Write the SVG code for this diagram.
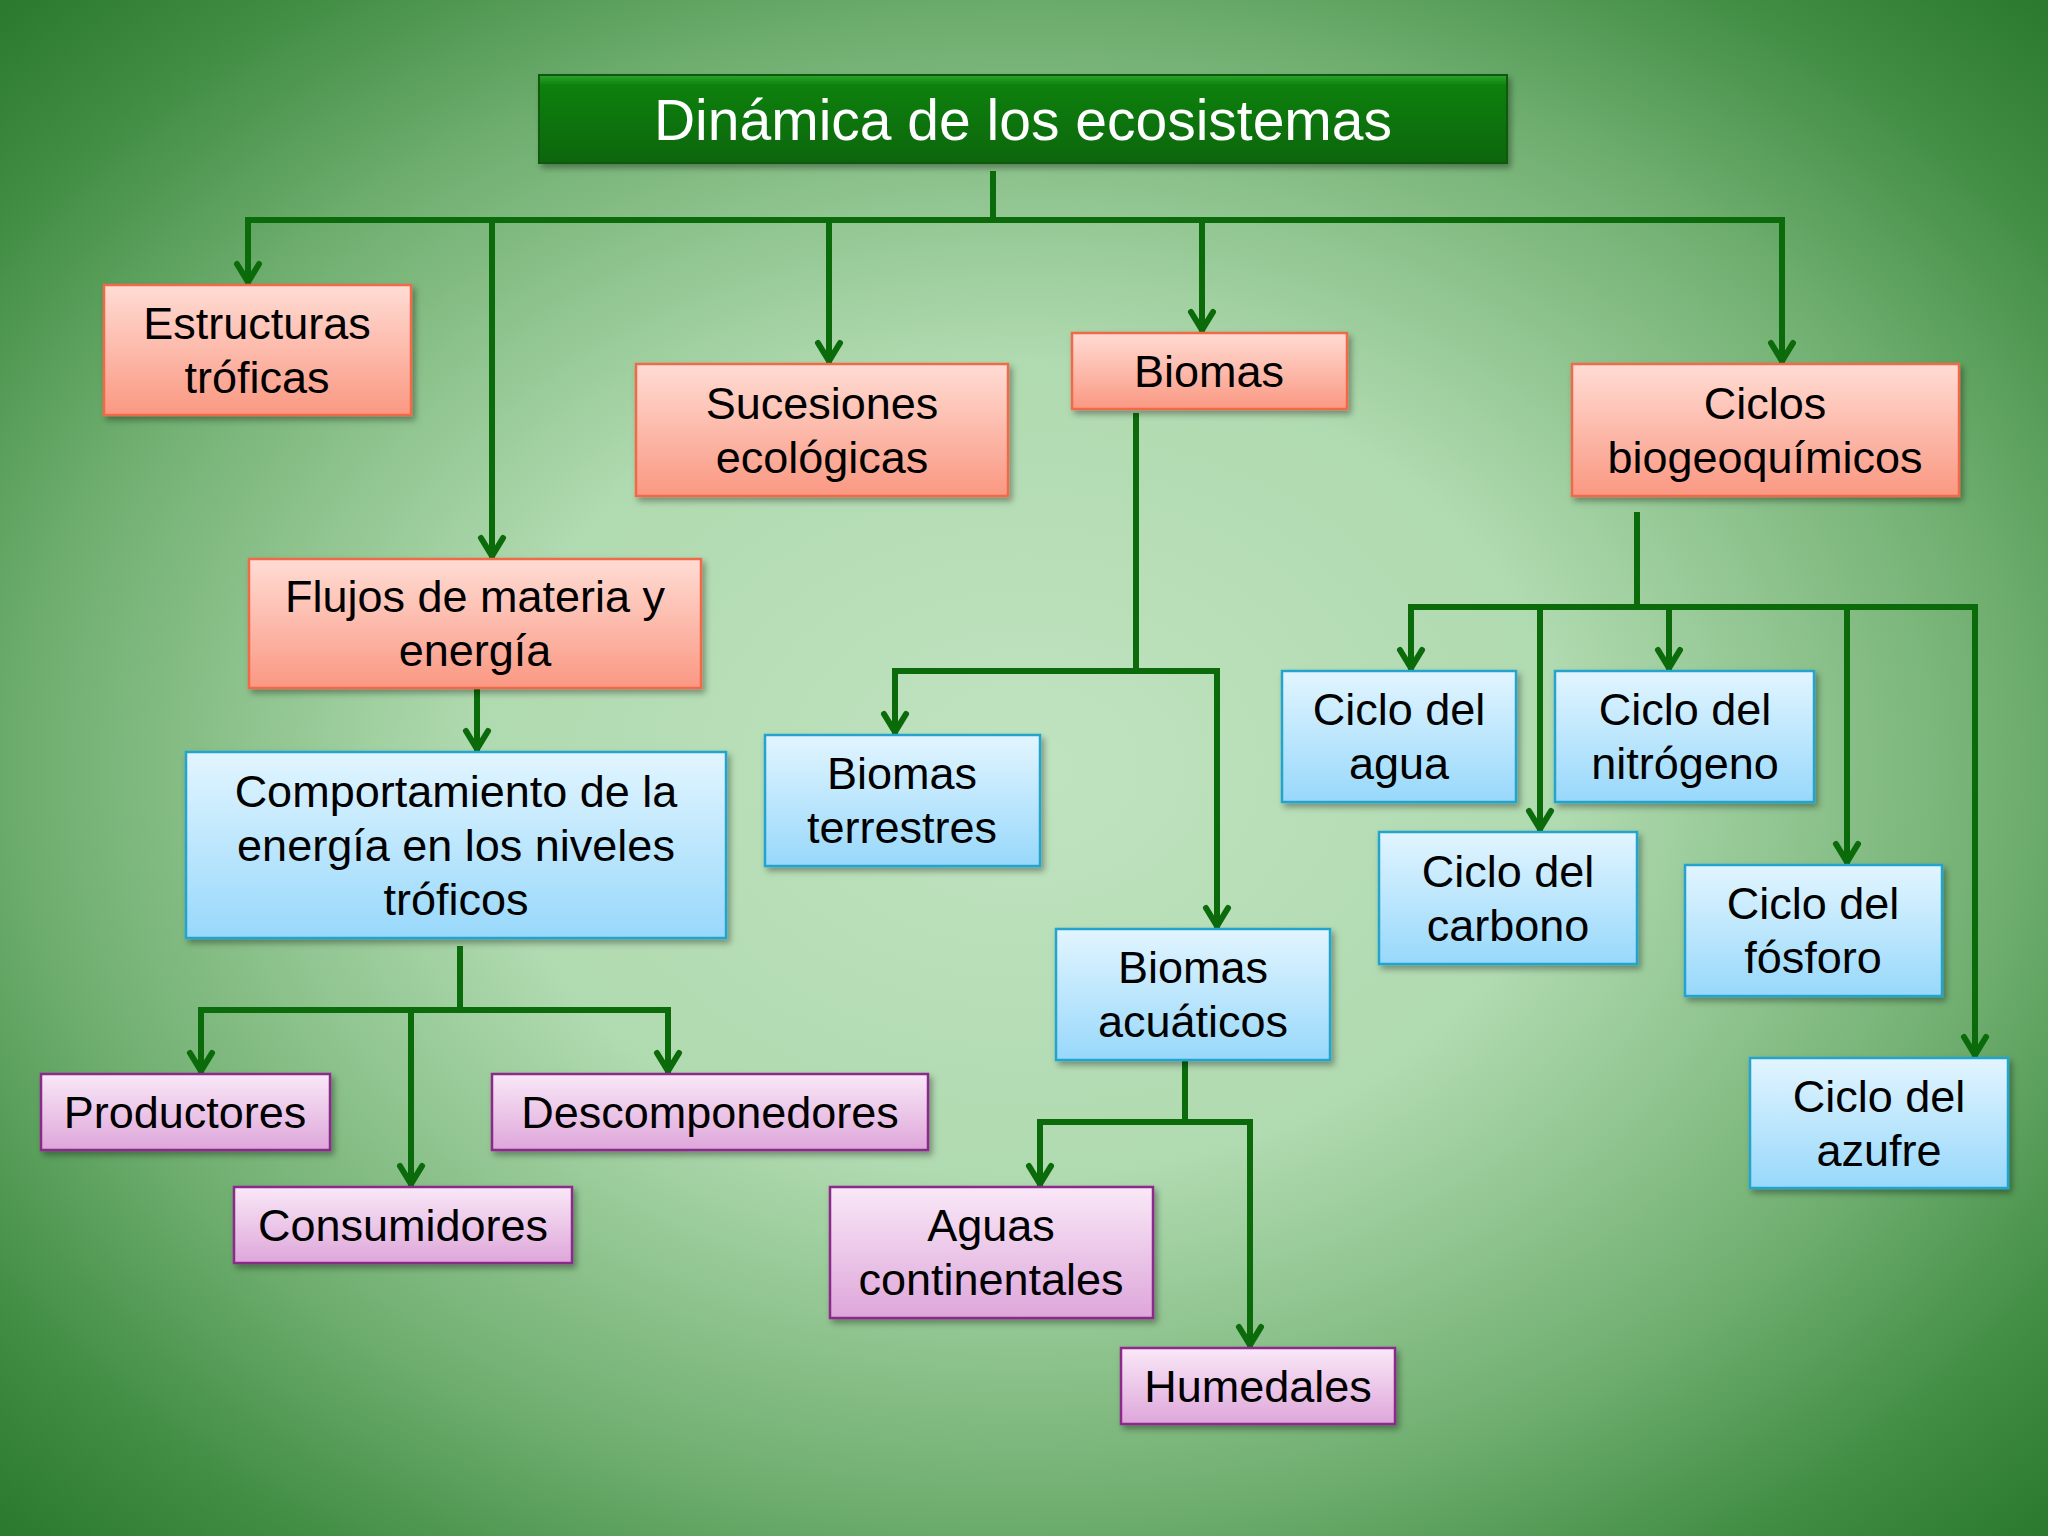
<svg xmlns="http://www.w3.org/2000/svg" width="2048" height="1536" viewBox="0 0 2048 1536">
<defs>
<radialGradient id="bg" cx="0.5" cy="0.5" r="0.7">
<stop offset="0" stop-color="#c0e3c0"/>
<stop offset="0.38" stop-color="#b0dab0"/>
<stop offset="0.68" stop-color="#72b072"/>
<stop offset="0.88" stop-color="#3f8c42"/>
<stop offset="1" stop-color="#2c7a2f"/>
</radialGradient>
<linearGradient id="gTitle" x1="0" y1="0" x2="0" y2="1">
<stop offset="0" stop-color="#2aa52a"/>
<stop offset="0.12" stop-color="#0d800d"/>
<stop offset="1" stop-color="#086608"/>
</linearGradient>
<linearGradient id="gSalmon" x1="0" y1="0" x2="0" y2="1">
<stop offset="0" stop-color="#ffdcd4"/>
<stop offset="1" stop-color="#fa9882"/>
</linearGradient>
<linearGradient id="gBlue" x1="0" y1="0" x2="0" y2="1">
<stop offset="0" stop-color="#e2f5ff"/>
<stop offset="1" stop-color="#98d8fb"/>
</linearGradient>
<linearGradient id="gPink" x1="0" y1="0" x2="0" y2="1">
<stop offset="0" stop-color="#f9e8f7"/>
<stop offset="1" stop-color="#dea6da"/>
</linearGradient>
<filter id="sh" x="-10%" y="-10%" width="130%" height="140%">
<feDropShadow dx="3" dy="4" stdDeviation="3" flood-color="#000" flood-opacity="0.35"/>
</filter>
<marker id="ah" markerUnits="userSpaceOnUse" markerWidth="40" markerHeight="40" viewBox="-30 -20 40 40" refX="0" refY="0" orient="auto" overflow="visible">
<path d="M-20,-11 L-2,0 L-20,11" fill="none" stroke="#0b6b0b" stroke-width="6" stroke-linecap="round" stroke-linejoin="miter"/>
</marker>
<style>
.salmon{fill:url(#gSalmon);stroke:#f06a48;stroke-width:2.5;filter:url(#sh)}
.blue{fill:url(#gBlue);stroke:#24a4cf;stroke-width:2.5;filter:url(#sh)}
.pink{fill:url(#gPink);stroke:#8c2a8c;stroke-width:2.5;filter:url(#sh)}
.t{font-family:"Liberation Sans",Arial,sans-serif;font-size:45px;fill:#000;text-anchor:middle}
.title{font-family:"Liberation Sans",Arial,sans-serif;font-size:57px;fill:#fff;text-anchor:middle}
.c{fill:none;stroke:#0b6b0b;stroke-width:6}
.a{fill:none;stroke:#0b6b0b;stroke-width:6;marker-end:url(#ah)}
</style>
</defs>
<rect x="0" y="0" width="2048" height="1536" fill="url(#bg)"/>

<g id="connectors">
<path class="c" d="M993,171 V220"/>
<path class="c" d="M245,220 H1785"/>
<path class="a" d="M248,220 V284"/>
<path class="a" d="M492,220 V558"/>
<path class="a" d="M829,220 V363"/>
<path class="a" d="M1202,220 V332"/>
<path class="a" d="M1782,220 V363"/>

<path class="a" d="M477,688 V751"/>

<path class="c" d="M460,946 V1010"/>
<path class="c" d="M198,1010 H671"/>
<path class="a" d="M201,1010 V1073"/>
<path class="a" d="M411,1010 V1186"/>
<path class="a" d="M668,1010 V1073"/>

<path class="c" d="M1136,413 V671"/>
<path class="c" d="M892,671 H1220"/>
<path class="a" d="M895,671 V734"/>
<path class="a" d="M1217,671 V928"/>

<path class="c" d="M1185,1060 V1122"/>
<path class="c" d="M1037,1122 H1253"/>
<path class="a" d="M1040,1122 V1186"/>
<path class="a" d="M1250,1122 V1347"/>

<path class="c" d="M1637,512 V607"/>
<path class="c" d="M1408,607 H1978"/>
<path class="a" d="M1411,607 V670"/>
<path class="a" d="M1540,607 V831"/>
<path class="a" d="M1669,607 V670"/>
<path class="a" d="M1847,607 V864"/>
<path class="a" d="M1975,607 V1057"/>
</g>

<g id="title">
<rect x="539" y="75" width="968" height="88" fill="url(#gTitle)" stroke="#0a5a0a" stroke-width="2" filter="url(#sh)"/>
<text class="title" x="1023" y="140">Dinámica de los ecosistemas</text>
</g>

<g id="estructuras">
<rect class="salmon" x="104" y="285" width="307" height="130"/>
<text class="t" x="257" y="339">Estructuras</text>
<text class="t" x="257" y="393">tróficas</text>
</g>

<g id="flujos">
<rect class="salmon" x="249" y="559" width="452" height="129"/>
<text class="t" x="475" y="612">Flujos de materia y</text>
<text class="t" x="475" y="666">energía</text>
</g>

<g id="sucesiones">
<rect class="salmon" x="636" y="364" width="372" height="132"/>
<text class="t" x="822" y="419">Sucesiones</text>
<text class="t" x="822" y="473">ecológicas</text>
</g>

<g id="biomas">
<rect class="salmon" x="1072" y="333" width="275" height="76"/>
<text class="t" x="1209" y="387">Biomas</text>
</g>

<g id="ciclos">
<rect class="salmon" x="1572" y="364" width="387" height="132"/>
<text class="t" x="1765" y="419">Ciclos</text>
<text class="t" x="1765" y="473">biogeoquímicos</text>
</g>

<g id="comportamiento">
<rect class="blue" x="186" y="752" width="540" height="186"/>
<text class="t" x="456" y="807">Comportamiento de la</text>
<text class="t" x="456" y="861">energía en los niveles</text>
<text class="t" x="456" y="915">tróficos</text>
</g>

<g id="productores">
<rect class="pink" x="41" y="1074" width="289" height="76"/>
<text class="t" x="185" y="1128">Productores</text>
</g>

<g id="descomponedores">
<rect class="pink" x="492" y="1074" width="436" height="76"/>
<text class="t" x="710" y="1128">Descomponedores</text>
</g>

<g id="consumidores">
<rect class="pink" x="234" y="1187" width="338" height="76"/>
<text class="t" x="403" y="1241">Consumidores</text>
</g>

<g id="biomas-terrestres">
<rect class="blue" x="765" y="735" width="275" height="131"/>
<text class="t" x="902" y="789">Biomas</text>
<text class="t" x="902" y="843">terrestres</text>
</g>

<g id="biomas-acuaticos">
<rect class="blue" x="1056" y="929" width="274" height="131"/>
<text class="t" x="1193" y="983">Biomas</text>
<text class="t" x="1193" y="1037">acuáticos</text>
</g>

<g id="aguas">
<rect class="pink" x="830" y="1187" width="323" height="131"/>
<text class="t" x="991" y="1241">Aguas</text>
<text class="t" x="991" y="1295">continentales</text>
</g>

<g id="humedales">
<rect class="pink" x="1121" y="1348" width="274" height="76"/>
<text class="t" x="1258" y="1402">Humedales</text>
</g>

<g id="ciclo-agua">
<rect class="blue" x="1282" y="671" width="234" height="131"/>
<text class="t" x="1399" y="725">Ciclo del</text>
<text class="t" x="1399" y="779">agua</text>
</g>

<g id="ciclo-nitrogeno">
<rect class="blue" x="1555" y="671" width="259" height="131"/>
<text class="t" x="1685" y="725">Ciclo del</text>
<text class="t" x="1685" y="779">nitrógeno</text>
</g>

<g id="ciclo-carbono">
<rect class="blue" x="1379" y="832" width="258" height="132"/>
<text class="t" x="1508" y="887">Ciclo del</text>
<text class="t" x="1508" y="941">carbono</text>
</g>

<g id="ciclo-fosforo">
<rect class="blue" x="1685" y="865" width="257" height="131"/>
<text class="t" x="1813" y="919">Ciclo del</text>
<text class="t" x="1813" y="973">fósforo</text>
</g>

<g id="ciclo-azufre">
<rect class="blue" x="1750" y="1058" width="258" height="130"/>
<text class="t" x="1879" y="1112">Ciclo del</text>
<text class="t" x="1879" y="1166">azufre</text>
</g>
</svg>
